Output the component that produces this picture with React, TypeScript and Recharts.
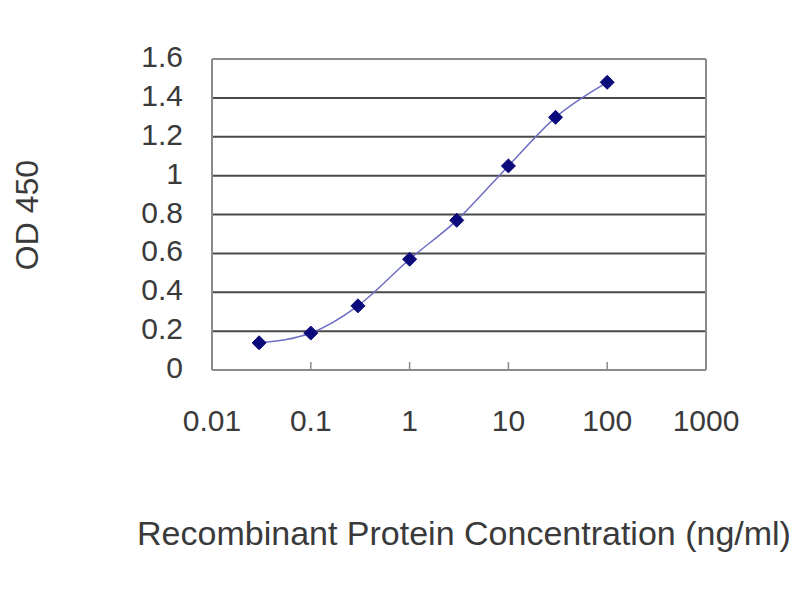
import { LineChart, Line, XAxis, YAxis, CartesianGrid, ReferenceLine } from "recharts";

const concentrations = [0.03, 0.1, 0.3, 1, 3, 10, 30, 100];
const odValues = [0.14, 0.19, 0.33, 0.57, 0.77, 1.05, 1.3, 1.48];
const xTicks = [0.01, 0.1, 1, 10, 100, 1000];
const yTicks = [0, 0.2, 0.4, 0.6, 0.8, 1, 1.2, 1.4, 1.6];

const data = concentrations.map((c, i) => ({ conc: c, od: odValues[i] }));

const FONT = "'Liberation Sans', Arial, sans-serif";
const TEXT = '#3a3a3a';
const BORDER = '#8c8c8c';

const XTick = (props: any) => {
  const { x, y, payload } = props;
  return (
    <g>
      <line x1={x} y1={y - 8} x2={x} y2={y} stroke={BORDER} strokeWidth={1.5} />
      <text x={x} y={y + 61} textAnchor="middle" fontSize={30} fill={TEXT} fontFamily={FONT}>
        {String(payload.value)}
      </text>
    </g>
  );
};

const YTick = (props: any) => {
  const { x, y, payload } = props;
  return (
    <text x={x - 29} y={y + 8} textAnchor="end" fontSize={30} fill={TEXT} fontFamily={FONT}>
      {String(payload.value)}
    </text>
  );
};

const Diamond = (props: any) => {
  const { cx, cy } = props;
  if (cx == null || cy == null) return null;
  const r = 7;
  return (
    <path
      d={`M${cx},${cy - r} L${cx + r},${cy} L${cx},${cy + r} L${cx - r},${cy} Z`}
      fill="#0a0a7a"
      stroke="#0a0a7a"
      strokeWidth={1}
    />
  );
};

export default function App() {
  return (
    <div style={{ position: 'absolute', left: 0, top: 0, width: 800, height: 600, background: '#fff' }}>
      <LineChart width={800} height={600} data={data} margin={{ top: 59, right: 94, bottom: 170, left: 152 }}>
        <CartesianGrid vertical={false} stroke="#4a4a4a" strokeWidth={2} />
        <XAxis
          dataKey="conc"
          type="number"
          scale="log"
          domain={[0.01, 1000]}
          ticks={xTicks}
          allowDataOverflow
          height={60}
          tickSize={0}
          tickMargin={0}
          tickLine={false}
          axisLine={{ stroke: BORDER, strokeWidth: 2 }}
          tick={<XTick />}
          interval={0}
          label={{
            content: () => (
              <text x={464} y={545} textAnchor="middle" fontSize={34} fill={TEXT} fontFamily={FONT}>
                Recombinant Protein Concentration (ng/ml)
              </text>
            ),
          }}
        />
        <YAxis
          type="number"
          domain={[0, 1.6]}
          ticks={yTicks}
          width={60}
          tickSize={0}
          tickMargin={0}
          tickLine={false}
          axisLine={{ stroke: BORDER, strokeWidth: 2 }}
          tick={<YTick />}
          interval={0}
          label={{
            content: () => (
              <text
                x={27}
                y={215}
                transform="rotate(-90 27 215)"
                textAnchor="middle"
                dominantBaseline="central"
                fontSize={32}
                fill={TEXT}
                fontFamily={FONT}
              >
                OD 450
              </text>
            ),
          }}
        />
        <ReferenceLine y={1.6} stroke={BORDER} strokeWidth={2} />
        <ReferenceLine x={1000} stroke={BORDER} strokeWidth={2} />
        <Line
          type="monotone"
          dataKey="od"
          stroke="#6e6ec4"
          strokeWidth={1.5}
          dot={<Diamond />}
          activeDot={false}
          isAnimationActive={false}
        />
      </LineChart>
    </div>
  );
}
